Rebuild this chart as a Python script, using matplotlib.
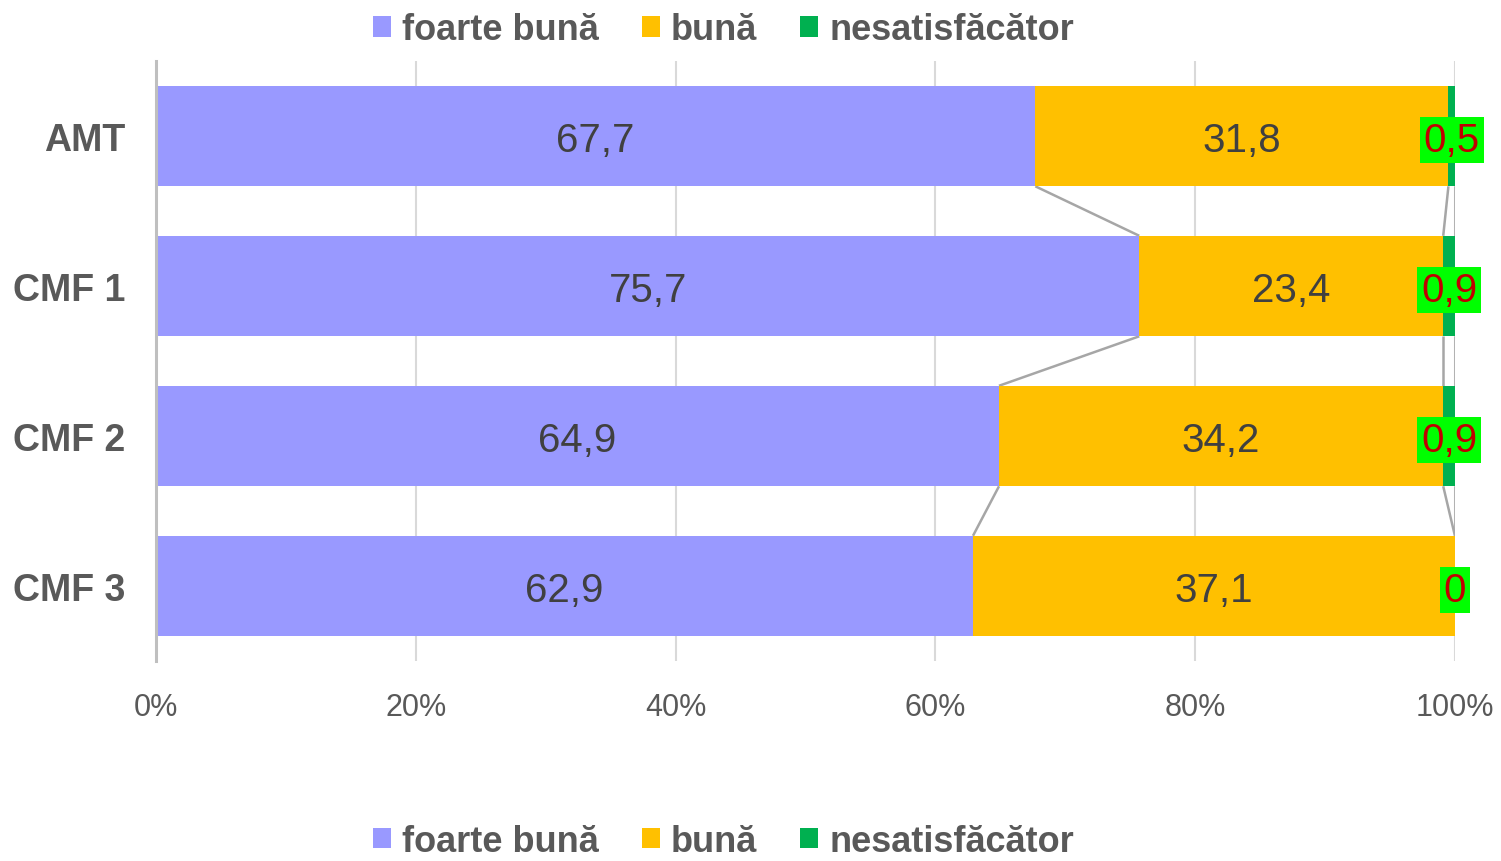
import matplotlib
matplotlib.use("Agg")
import matplotlib.pyplot as plt
from matplotlib.patches import Patch
import numpy as np

# data (percent)
categories = ["AMT", "CMF 1", "CMF 2", "CMF 3"]
series_names = ["foarte bună", "bună", "nesatisfăcător"]
foarte_buna = [67.7, 75.7, 64.9, 62.9]
buna = [31.8, 23.4, 34.2, 37.1]
nesatisfacator = [0.5, 0.9, 0.9, 0.0]
xticks = [0, 20, 40, 60, 80, 100]

colors = ["#9999FF", "#FFC000", "#00B050"]
text_col = "#595959"
plt.rcParams['font.family'] = ['Liberation Sans', 'DejaVu Sans']

fig = plt.figure(figsize=(15.01, 8.62), dpi=100)
ax = fig.add_axes([0.1039, 0.232, 0.8654, 0.696])

y = np.arange(len(categories))
bar_h = 0.67
left = np.zeros(len(categories))
values = [foarte_buna, buna, nesatisfacator]
bounds = []
for i, vals in enumerate(values):
    vals = np.array(vals)
    ax.barh(y, vals, left=left, height=bar_h, color=colors[i], zorder=2)
    for j, v in enumerate(vals):
        lbl = ("%g" % v).replace(".", ",")
        cx = left[j] + v / 2
        if i < 2:
            ax.text(cx, y[j], lbl, ha="center", va="center_baseline", fontsize=29,
                    color="#404040", zorder=4)
        else:
            ax.text(cx, y[j], lbl, ha="center", va="center_baseline", fontsize=29,
                    color="#C00000", zorder=4,
                    bbox=dict(boxstyle="square,pad=0.1", fc="#00FF00", ec="none"))
    left = left + vals
    bounds.append(left.copy())

# series lines between bars
for b in bounds:
    for j in range(len(categories) - 1):
        ax.plot([b[j], b[j + 1]], [y[j] + bar_h / 2, y[j + 1] - bar_h / 2],
                color="#A6A6A6", lw=1.8, zorder=1, solid_capstyle="butt")

ax.set_xlim(0, 100)
ax.set_ylim(3.5, -0.5)
ax.set_xticks(xticks)
ax.set_xticklabels(["%d%%" % t for t in xticks], fontsize=22, color=text_col)
ax.set_yticks(y)
ax.set_yticklabels(categories, fontsize=27, fontweight="bold", color=text_col)
ax.tick_params(axis="y", length=0, pad=22)
ax.tick_params(axis="x", length=0, pad=22)
ax.grid(axis="x", color="#D9D9D9", lw=1.5, zorder=0)
ax.set_axisbelow(True)
for s in ["top", "right", "bottom"]:
    ax.spines[s].set_visible(False)
ax.spines["left"].set_color("#BFBFBF")
ax.spines["left"].set_linewidth(2.2)
ax.spines["left"].set_zorder(3)

handles = [Patch(facecolor=c, edgecolor="none") for c in colors]
leg_font = dict(family=['Liberation Sans Narrow', 'Liberation Sans'], weight="bold", size=26)
for ypos in (0.9645, 0.023):
    leg = fig.legend(handles, series_names, loc="center", bbox_to_anchor=(0.482, ypos),
                     ncol=3, frameon=False, prop=leg_font, handlelength=0.5,
                     handleheight=0.5, handletextpad=0.3, columnspacing=1.2,
                     borderpad=0, borderaxespad=0)
    for t in leg.get_texts():
        t.set_color(text_col)

fig.savefig("out.png", dpi=100)
